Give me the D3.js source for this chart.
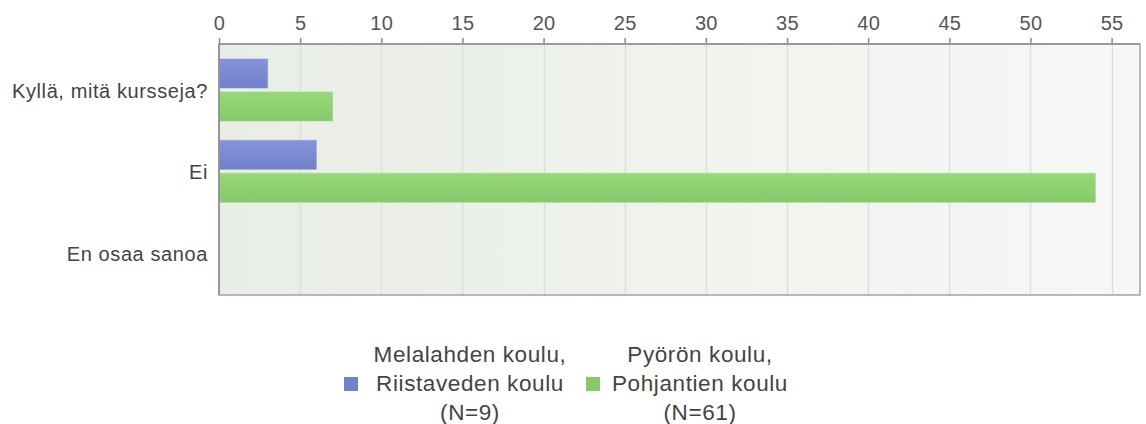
<!DOCTYPE html>
<html>
<head>
<meta charset="utf-8">
<script src="https://cdn.jsdelivr.net/npm/d3@7"></script>
<style>
  html, body { margin: 0; padding: 0; background: #ffffff; }
  svg { display: block; font-family: "Liberation Sans", Arial, sans-serif; }
</style>
</head>
<body>
<svg id="chart" width="1146" height="424"></svg>
<script>
const categories = ["Kyllä, mitä kursseja?", "Ei", "En osaa sanoa"];
const seriesNames = [
  ["Melalahden koulu,", "Riistaveden koulu", "(N=9)"],
  ["Pyörön koulu,", "Pohjantien koulu", "(N=61)"]
];
const seriesA = [3, 6, 0];
const seriesB = [7, 54, 0];
const tickValues = [0, 5, 10, 15, 20, 25, 30, 35, 40, 45, 50, 55];
const xMax = 56.75;

const values = [seriesA, seriesB];
const colors = [["#8494dc", "#7081c9"], ["#97d97a", "#86c96a"]];

const svg = d3.select("#chart");
const pLeft = 219, pRight = 1140, pTop = 44, pBottom = 295;

const x = d3.scaleLinear().domain([0, xMax]).range([pLeft, pRight]);
const y0 = d3.scaleBand().domain(categories).range([49, 293]).paddingInner(0);
const y1 = d3.scaleBand().domain([0, 1]).range([10, 72]).paddingInner(0.12);

const defs = svg.append("defs");
const bg = defs.append("linearGradient").attr("id", "bg").attr("x1", "0").attr("x2", "1").attr("y1", "0").attr("y2", "0");
bg.append("stop").attr("offset", "0").attr("stop-color", "#e8ede5");
bg.append("stop").attr("offset", "1").attr("stop-color", "#f7f8f6");
colors.forEach((c, i) => {
  const g = defs.append("linearGradient").attr("id", "bar" + i).attr("x1", "0").attr("x2", "0").attr("y1", "0").attr("y2", "1");
  g.append("stop").attr("offset", "0").attr("stop-color", c[0]);
  g.append("stop").attr("offset", "1").attr("stop-color", c[1]);
});

// plot background
svg.append("rect").attr("x", pLeft).attr("y", pTop).attr("width", pRight - pLeft).attr("height", pBottom - pTop)
  .attr("fill", "url(#bg)");

// gridlines
svg.append("g").selectAll("line").data(tickValues.filter(d => d > 0)).join("line")
  .attr("x1", d => Math.round(x(d)) + 0.5).attr("x2", d => Math.round(x(d)) + 0.5)
  .attr("y1", pTop).attr("y2", pBottom)
  .attr("stroke", "#dcdfe2").attr("stroke-width", 1.5);

// bars
categories.forEach((cat, ci) => {
  values.forEach((vals, si) => {
    const v = vals[ci];
    if (v <= 0) return;
    svg.append("rect")
      .attr("x", x(0))
      .attr("y", y0(cat) + y1(si))
      .attr("width", x(v) - x(0))
      .attr("height", y1.bandwidth())
      .attr("fill", "url(#bar" + si + ")")
      .attr("stroke", colors[si][0])
      .attr("stroke-opacity", 0.5)
      .attr("stroke-width", 1);
  });
});

// frame
svg.append("rect").attr("x", pLeft).attr("y", pTop).attr("width", pRight - pLeft).attr("height", pBottom - pTop)
  .attr("fill", "none").attr("stroke", "#a3a3a3").attr("stroke-width", 1.5);
svg.append("line").attr("x1", pLeft).attr("x2", pRight).attr("y1", pTop).attr("y2", pTop)
  .attr("stroke", "#9a9a9a").attr("stroke-width", 2);
svg.append("line").attr("x1", pLeft).attr("x2", pLeft).attr("y1", pTop).attr("y2", pBottom)
  .attr("stroke", "#8f8f8f").attr("stroke-width", 1.5);

// top axis
const axis = d3.axisTop(x).tickValues(tickValues).tickSize(5).tickPadding(8).tickSizeOuter(0);
const ag = svg.append("g").attr("transform", `translate(0,${pTop - 1})`).call(axis);
ag.select(".domain").remove();
ag.selectAll(".tick line").attr("stroke", "#888").attr("stroke-width", 1.5);
ag.selectAll(".tick text")
  .attr("fill", "#555").attr("font-size", 20).attr("letter-spacing", "0.3px")
  .attr("font-family", "'Liberation Sans', Arial, sans-serif");

// category labels
const ay = d3.axisLeft(y0).tickSize(0).tickPadding(11);
const yg = svg.append("g").attr("transform", `translate(${pLeft},2)`).call(ay);
yg.select(".domain").remove();
yg.selectAll(".tick text")
  .attr("fill", "#444").attr("font-size", 20).attr("letter-spacing", "0.6px")
  .attr("font-family", "'Liberation Sans', Arial, sans-serif");

// legend
const legendX = [470, 700];
const squareX = [344, 586];
const baselines = [362, 391, 420];
seriesNames.forEach((lines, si) => {
  svg.append("rect").attr("x", squareX[si]).attr("y", 377).attr("width", 14).attr("height", 14)
    .attr("fill", colors[si][1]);
  lines.forEach((t, li) => {
    svg.append("text")
      .attr("x", legendX[si]).attr("y", baselines[li])
      .attr("text-anchor", "middle")
      .attr("font-size", 22.5).attr("letter-spacing", "0.6px")
      .attr("fill", "#444")
      .text(t);
  });
});
</script>
</body>
</html>
